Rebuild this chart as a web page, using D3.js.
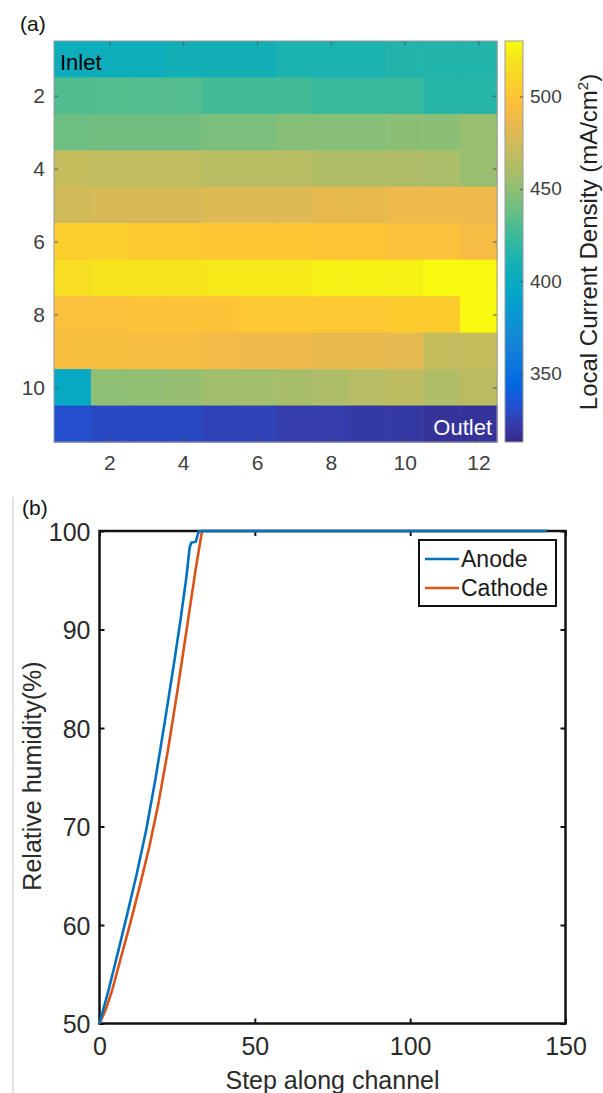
<!DOCTYPE html>
<html><head><meta charset="utf-8">
<script src="https://cdn.jsdelivr.net/npm/d3@7"></script>
<style>
html,body{margin:0;padding:0;background:#fff;}
svg{display:block;font-family:"Liberation Sans",Arial,Helvetica,sans-serif;}
</style></head>
<body>
<svg id="chart" width="603" height="1093"></svg>
<script>
// ---------- DATA ----------
// Panel (a): local current density (mA/cm^2), rows 1..11 (inlet -> outlet), columns 1..12
const colIndex = [1,2,3,4,5,6,7,8,9,10,11,12];
const rowIndex = [1,2,3,4,5,6,7,8,9,10,11];
const row1  = [404,404,404,408,408,408,412,412,412,415,415,415];
const row2  = [431,432,432,432,427,427,427,423,423,423,417,417];
const row3  = [439,441,441,441,444,444,447,447,447,449,449,454];
const row4  = [470,468,468,468,465,465,465,462,462,462,460,454];
const row5  = [475,477,477,477,480,480,480,484,484,488,488,488];
const row6  = [506,506,504,504,501,501,501,499,499,497,497,492];
const row7  = [516,519,519,519,522,522,522,525,525,525,529,529];
const row8  = [496,496,498,498,498,502,502,502,502,505,505,529];
const row9  = [494,494,493,493,491,488,488,485,485,483,470,470];
const row10 = [397,450,451,453,456,457,459,461,464,467,462,466];
const row11 = [332,329,329,329,326,326,323,323,321,321,318,318];
const densityRows = [row1,row2,row3,row4,row5,row6,row7,row8,row9,row10,row11];
const heatXTicks = [2,4,6,8,10,12];
const heatYTicks = [2,4,6,8,10];
const cbarTicks = [350,400,450,500];
const cbarDomain = [313,530];

// Panel (b): relative humidity along channel
const anodeStep = [0,3,6,9,12,15,18,21,24,26,28,29,29.5,31,31.5,32,144];
const anodeRH   = [50,53.5,57.3,61.2,65.2,69.6,74.8,80.6,86.6,90.8,95.4,98.3,98.8,98.9,99.5,100,100];
const cathodeStep = [0,2,4,7,10,13,16,19,22,25,28,31,33,144];
const cathodeRH   = [50,51.4,53.3,56.8,60.3,64.0,67.9,72.4,77.7,83.6,89.9,96.2,100,100];
const rhXTicks = [0,50,100,150];
const rhYTicks = [50,60,70,80,90,100];
const seriesNames = ["Anode","Cathode"];

// parula colormap anchors (style)
const parula = ["#352a87","#353dad","#2053d4","#0268e1","#0d75dc","#1481d6","#108ed2","#079ccf",
  "#06a7c6","#0faeb9","#25b5a9","#42bb98","#65be86","#87bf77","#a5be6b","#c0bc60",
  "#d9ba56","#f1b94a","#ffc337","#fad32a","#f5e41d","#f9fb0e"];

// ---------- DRAW ----------
const svg = d3.select("#chart");
const FONT = '"Liberation Sans",Arial,Helvetica,sans-serif';

// Panel labels
svg.append("text").attr("x",20).attr("y",31).attr("font-size",21).attr("fill","#111").text("(a)");
svg.append("text").attr("x",22).attr("y",515).attr("font-size",21).attr("fill","#111").text("(b)");

// ----- Heatmap -----
const hx = d3.scaleLinear().domain([0.5,12.5]).range([54,497]);
const hy = d3.scaleLinear().domain([0.5,11.5]).range([41,442]);
const tStops = parula.map((c,i)=>cbarDomain[0] + (cbarDomain[1]-cbarDomain[0])*i/(parula.length-1));
const color = d3.scaleLinear().domain(tStops).range(parula).interpolate(d3.interpolateRgb).clamp(true);

const cells = [];
densityRows.forEach((r,ri)=>r.forEach((v,ci)=>cells.push({row:rowIndex[ri],col:colIndex[ci],v})));
const gh = svg.append("g");
gh.selectAll("rect.cell").data(cells).join("rect")
  .attr("class","cell")
  .attr("x",d=>hx(d.col-0.5))
  .attr("y",d=>hy(d.row-0.5))
  .attr("width",d=>hx(d.col+0.5)-hx(d.col-0.5)+0.6)
  .attr("height",d=>hy(d.row+0.5)-hy(d.row-0.5)+0.6)
  .attr("fill",d=>color(d.v));

function styleAxis(g, col, fs, lineCol, sw){
  g.selectAll("text").attr("font-family",FONT).attr("font-size",fs).attr("fill",col);
  g.selectAll("line").attr("stroke",lineCol).attr("stroke-width",sw||1);
  g.select(".domain").remove();
}
const hAxB = svg.append("g").attr("transform","translate(0,442)")
  .call(d3.axisBottom(hx).tickValues(heatXTicks).tickSize(-4).tickPadding(13));
styleAxis(hAxB,"#404040",21,"#555");
const hAxT = svg.append("g").attr("transform","translate(0,41)")
  .call(d3.axisTop(hx).tickValues(heatXTicks).tickSize(-4).tickFormat(""));
styleAxis(hAxT,"#404040",21,"#555");
const hAxL = svg.append("g").attr("transform","translate(54,0)")
  .call(d3.axisLeft(hy).tickValues(heatYTicks).tickSize(-4).tickPadding(9));
styleAxis(hAxL,"#404040",21,"#555");
const hAxR = svg.append("g").attr("transform","translate(497,0)")
  .call(d3.axisRight(hy).tickValues(heatYTicks).tickSize(-4).tickFormat(""));
styleAxis(hAxR,"#404040",21,"#555");
svg.append("rect").attr("x",54).attr("y",41).attr("width",443).attr("height",401)
  .attr("fill","none").attr("stroke","#9a9a9a").attr("stroke-width",1);

svg.append("text").attr("x",60).attr("y",70).attr("font-size",22).attr("fill","#000").text("Inlet");
svg.append("text").attr("x",492).attr("y",435).attr("font-size",22).attr("fill","#fff")
  .attr("text-anchor","end").text("Outlet");

// ----- Colorbar -----
const cy = d3.scaleLinear().domain(cbarDomain).range([442,41]);
const defs = svg.append("defs");
const grad = defs.append("linearGradient").attr("id","parulaGrad")
  .attr("x1",0).attr("y1",1).attr("x2",0).attr("y2",0);
parula.forEach((c,i)=>grad.append("stop").attr("offset",(i/(parula.length-1))).attr("stop-color",c));
svg.append("rect").attr("x",505).attr("y",cy(cbarDomain[1])).attr("width",18)
  .attr("height",cy(cbarDomain[0])-cy(cbarDomain[1])).attr("fill","url(#parulaGrad)")
  .attr("stroke","#9a9a9a").attr("stroke-width",1);
const cAx = svg.append("g").attr("transform","translate(523,0)")
  .call(d3.axisRight(cy).tickValues(cbarTicks).tickSize(-3).tickPadding(7));
styleAxis(cAx,"#404040",19,"#555");
const cLab = svg.append("text").attr("transform","translate(597,242) rotate(-90)")
  .attr("text-anchor","middle").attr("font-size",24).attr("fill","#222");
cLab.append("tspan").text("Local Current Density (mA/cm");
cLab.append("tspan").attr("dy",-9).attr("font-size",15).text("2");
cLab.append("tspan").attr("dy",9).text(")");

// ----- Panel (b) -----
svg.append("line").attr("x1",13).attr("x2",13).attr("y1",497).attr("y2",1093)
  .attr("stroke","#c8c8c8").attr("stroke-width",1);

const bx = d3.scaleLinear().domain([0,150]).range([99.5,565.5]);
const by = d3.scaleLinear().domain([50,100]).range([1023.5,531]);

const bAxB = svg.append("g").attr("transform","translate(0,1023.5)")
  .call(d3.axisBottom(bx).tickValues(rhXTicks).tickSize(-5).tickPadding(14));
styleAxis(bAxB,"#2a2a2a",25,"#111",2);
const bAxL = svg.append("g").attr("transform","translate(99.5,0)")
  .call(d3.axisLeft(by).tickValues(rhYTicks).tickSize(-5).tickPadding(9));
styleAxis(bAxL,"#2a2a2a",25,"#111",2);
bAxL.selectAll("text").attr("dy","0.36em");
const bAxT = svg.append("g").attr("transform","translate(0,531)")
  .call(d3.axisTop(bx).tickValues(rhXTicks).tickSize(-5).tickFormat(""));
styleAxis(bAxT,"#2a2a2a",25,"#111",2);
const bAxR = svg.append("g").attr("transform","translate(565.5,0)")
  .call(d3.axisRight(by).tickValues(rhYTicks).tickSize(-5).tickFormat(""));
styleAxis(bAxR,"#2a2a2a",25,"#111",2);
svg.append("rect").attr("x",99.5).attr("y",531).attr("width",466).attr("height",492.5)
  .attr("fill","none").attr("stroke","#111").attr("stroke-width",2.5);

svg.append("text").attr("x",(99.5+565.5)/2).attr("y",1089).attr("text-anchor","middle")
  .attr("font-size",25).attr("fill","#2a2a2a").text("Step along channel");
svg.append("text").attr("transform","translate(41,776) rotate(-90)").attr("text-anchor","middle")
  .attr("font-size",25).attr("fill","#2a2a2a").text("Relative humidity(%)");

const lineGen = d3.line().x(d=>bx(d[0])).y(d=>by(d[1]));
const anodeData = anodeStep.map((s,i)=>[s,anodeRH[i]]);
const cathodeData = cathodeStep.map((s,i)=>[s,cathodeRH[i]]);
const lineColors = ["#0072BD","#D95319"];
svg.append("path").datum(cathodeData).attr("d",lineGen).attr("fill","none")
  .attr("stroke",lineColors[1]).attr("stroke-width",2.6).attr("stroke-linejoin","round");
svg.append("path").datum(anodeData).attr("d",lineGen).attr("fill","none")
  .attr("stroke",lineColors[0]).attr("stroke-width",2.6).attr("stroke-linejoin","round");

// Legend
const lg = svg.append("g");
lg.append("rect").attr("x",419).attr("y",540).attr("width",137).attr("height",66)
  .attr("fill","#fff").attr("stroke","#111").attr("stroke-width",2);
seriesNames.forEach((n,i)=>{
  const yy = 559 + i*29;
  lg.append("line").attr("x1",425).attr("x2",459).attr("y1",yy).attr("y2",yy)
    .attr("stroke",lineColors[i]).attr("stroke-width",2.6);
  lg.append("text").attr("x",461).attr("y",yy+8).attr("font-size",23).attr("fill","#1a1a1a").text(n);
});
</script>
</body></html>
